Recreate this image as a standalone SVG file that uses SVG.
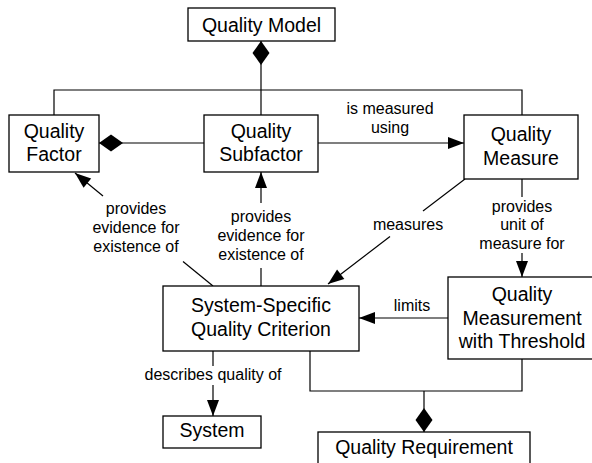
<svg xmlns="http://www.w3.org/2000/svg" width="592" height="463" viewBox="0 0 592 463">
<style>
.box{fill:#fff;stroke:#000;stroke-width:1.3}
.nt{font-family:"Liberation Sans",Arial,sans-serif;font-size:19.5px;fill:#000;text-anchor:middle}
.lt{font-family:"Liberation Sans",Arial,sans-serif;font-size:16px;fill:#000;text-anchor:middle}
.ln{fill:none;stroke:#000;stroke-width:1.2}
.arr{marker-end:url(#arrow)}
</style>
<defs>
<marker id="arrow" markerUnits="userSpaceOnUse" markerWidth="17" markerHeight="12" refX="16" refY="6" orient="auto" overflow="visible">
<path d="M0,0 L16,6 L0,12 z" fill="#000"/>
</marker>
<marker id="diamondStart" markerUnits="userSpaceOnUse" markerWidth="24" markerHeight="17" refX="0" refY="8.5" orient="auto" overflow="visible">
<path d="M0,8.5 L12,0 L24,8.5 L12,17 z" fill="#000"/>
</marker>
<marker id="diamondEnd" markerUnits="userSpaceOnUse" markerWidth="24" markerHeight="17" refX="24" refY="8.5" orient="auto" overflow="visible">
<path d="M0,8.5 L12,0 L24,8.5 L12,17 z" fill="#000"/>
</marker>
</defs>
<rect width="592" height="463" fill="#fff"/>
<g id="connectors">
<line class="ln" x1="261" y1="41" x2="261" y2="115" marker-start="url(#diamondStart)"/>
<polyline class="ln" points="54,115 54,90 522,90 522,115"/>
<line class="ln" x1="99" y1="143" x2="204" y2="143" marker-start="url(#diamondStart)"/>
<line class="ln arr" x1="318" y1="143" x2="464" y2="143"/>
<text class="lt" x="390" y="114">is measured</text>
<text class="lt" x="390" y="133">using</text>
<line class="ln" x1="465" y1="179" x2="423" y2="211"/>
<line class="ln arr" x1="390" y1="236.5" x2="328" y2="284"/>
<text class="lt" x="408" y="230">measures</text>
<line class="ln" x1="522" y1="179" x2="522" y2="197"/>
<line class="ln arr" x1="522" y1="253" x2="522" y2="277"/>
<text class="lt" x="522" y="212">provides</text>
<text class="lt" x="522" y="230">unit of</text>
<text class="lt" x="522" y="249">measure for</text>
<line class="ln arr" x1="448" y1="318" x2="359" y2="318"/>
<text class="lt" x="412" y="311">limits</text>
<line class="ln" x1="213" y1="286" x2="183" y2="261.5"/>
<line class="ln arr" x1="103" y1="196" x2="75" y2="173"/>
<text class="lt" x="136" y="214">provides</text>
<text class="lt" x="136" y="233">evidence for</text>
<text class="lt" x="136" y="252">existence of</text>
<line class="ln" x1="261" y1="286" x2="261" y2="268"/>
<line class="ln arr" x1="261" y1="203" x2="261" y2="172"/>
<text class="lt" x="261" y="222">provides</text>
<text class="lt" x="261" y="241">evidence for</text>
<text class="lt" x="261" y="260">existence of</text>
<line class="ln" x1="213" y1="351" x2="213" y2="366"/>
<line class="ln arr" x1="213" y1="385" x2="213" y2="416"/>
<text class="lt" x="213" y="380">describes quality of</text>
<polyline class="ln" points="310,351 310,391 522,391 522,359"/>
<line class="ln" x1="424" y1="391" x2="424" y2="432" marker-end="url(#diamondEnd)"/>
</g>
<g id="quality-model">
<rect class="box" x="188" y="8" width="147" height="33"/>
<text class="nt" x="261.5" y="32">Quality Model</text>
</g>
<g id="quality-factor">
<rect class="box" x="9" y="115" width="90" height="57"/>
<text class="nt" x="54" y="138">Quality</text>
<text class="nt" x="54" y="161">Factor</text>
</g>
<g id="quality-subfactor">
<rect class="box" x="204" y="115" width="114" height="57"/>
<text class="nt" x="261" y="138">Quality</text>
<text class="nt" x="261" y="161">Subfactor</text>
</g>
<g id="quality-measure">
<rect class="box" x="464" y="115" width="114" height="64"/>
<text class="nt" x="521" y="141">Quality</text>
<text class="nt" x="521" y="165">Measure</text>
</g>
<g id="system-specific-quality-criterion">
<rect class="box" x="163" y="286" width="196" height="65"/>
<text class="nt" x="261" y="312">System-Specific</text>
<text class="nt" x="261" y="336">Quality Criterion</text>
</g>
<g id="quality-measurement-with-threshold">
<rect class="box" x="448" y="277" width="148" height="82"/>
<text class="nt" x="522" y="300.5">Quality</text>
<text class="nt" x="522" y="324.5">Measurement</text>
<text class="nt" x="522" y="348">with Threshold</text>
</g>
<g id="system">
<rect class="box" x="163" y="416" width="98" height="32"/>
<text class="nt" x="212" y="437">System</text>
</g>
<g id="quality-requirement">
<rect class="box" x="318" y="432" width="212" height="40"/>
<text class="nt" x="424" y="454">Quality Requirement</text>
</g>
</svg>
